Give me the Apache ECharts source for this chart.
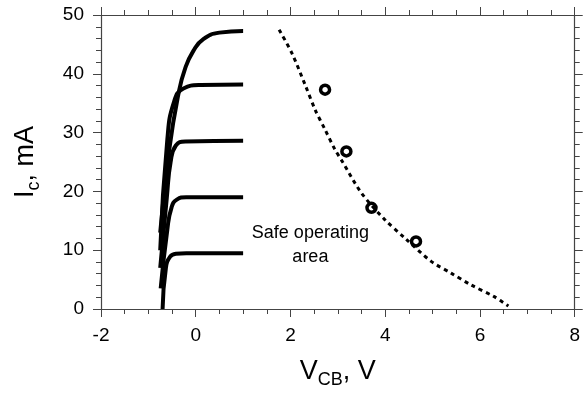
<!DOCTYPE html>
<html>
<head>
<meta charset="utf-8">
<script src="https://cdn.jsdelivr.net/npm/echarts@6/dist/echarts.min.js"></script>
<style>
  html, body { margin: 0; padding: 0; background: #fff; }
  #charts { width: 583px; height: 396px; }
</style>
</head>
<body>
<div id="charts"></div>
<script>
// output characteristics, [V_CB, I_c]
var curve1 = [[-0.70, 0], [-0.63, 7], [-0.54, 8.9], [-0.42, 9.4], [-0.2, 9.5], [1.0, 9.5]];
var curve2 = [[-0.74, 3.5], [-0.6, 13.5], [-0.51, 17.3], [-0.40, 18.6], [-0.2, 19], [1.0, 19]];
var curve3 = [[-0.75, 7], [-0.61, 19], [-0.53, 25], [-0.42, 27.8], [-0.22, 28.5], [1.0, 28.6]];
var curve4 = [[-0.75, 10], [-0.6, 28.8], [-0.46, 35.2], [-0.26, 37.5], [0.1, 38.1], [1.0, 38.2]];
var curve5 = [[-0.75, 13], [-0.56, 27.1], [-0.36, 36.8], [-0.22, 41], [-0.05, 43.9], [0.16, 45.9], [0.5, 47], [1.0, 47.3]];
// boundary of safe operating area
var boundary = [[1.76, 47.5], [2.03, 43.5], [2.31, 38.1], [2.52, 33.9], [2.73, 30.5], [2.94, 27.1],
                [3.1, 25], [3.5, 19.7], [3.99, 15.2], [4.41, 12.1], [4.97, 8.1], [5.39, 6.1],
                [5.81, 4.1], [6.3, 2.1], [6.6, 0.5]];
var measured = [[2.73, 37.3], [3.18, 26.8], [3.71, 17.2], [4.65, 11.5]];
var note = [[2.42, 10.9, 'Safe operating\narea']];

var xTicks = [-2, 0, 2, 4, 6, 8];
var yTicks = [0, 10, 20, 30, 40, 50];

var myChart = echarts.init(document.getElementById('charts'));
var font = 'Liberation Sans';
var axisColor = '#444';

function makeAxis(pos, isX, showLabel) {
    return {
        type: 'value',
        position: pos,
        min: isX ? xTicks[0] : yTicks[0],
        max: isX ? xTicks[xTicks.length - 1] : yTicks[yTicks.length - 1],
        interval: isX ? 2 : 10,
        axisLine: { show: true, onZero: false, lineStyle: { color: axisColor, width: 1.2 } },
        axisTick: { show: true, inside: false, length: 8, lineStyle: { color: axisColor } },
        minorTick: { show: true, splitNumber: isX ? 4 : 5, length: 5, lineStyle: { color: axisColor } },
        splitLine: { show: false },
        axisLabel: { show: showLabel, color: '#000', fontFamily: font, fontSize: 19, margin: 17 }
    };
}

var lineStyle = { color: '#000', width: 4 };
function curve(data) {
    return {
        type: 'line', data: data, smooth: 0.5,
        showSymbol: false, lineStyle: lineStyle, silent: true, xAxisIndex: 0, yAxisIndex: 0
    };
}

var nameStyle = {
    fontFamily: font, color: '#000',
    rich: { a: { fontSize: 27, fontFamily: font }, s: { fontSize: 18, fontFamily: font, padding: [16, 0, 0, 0] } }
};
var xName = makeAxis('bottom', true, true);
xName.name = '{a|V}{s|CB}{a|, V}';
xName.nameLocation = 'middle';
xName.nameGap = 46;
xName.nameTextStyle = nameStyle;
var yName = makeAxis('left', false, true);
yName.name = '{a|I}{s|c}{a|, mA}';
yName.nameLocation = 'middle';
yName.nameGap = 58;
yName.nameTextStyle = nameStyle;

var option = {
    animation: false,
    backgroundColor: '#fff',
    grid: { left: 101, top: 15, right: 5, bottom: 87 },
    xAxis: [xName, makeAxis('top', true, false)],
    yAxis: [yName, makeAxis('right', false, false)],
    series: [
        curve(curve1), curve(curve2), curve(curve3), curve(curve4), curve(curve5),
        {
            type: 'line', data: boundary, smooth: 0.3, showSymbol: false, silent: true,
            lineStyle: { color: '#000', width: 3, type: [4, 4] }
        },
        {
            type: 'scatter', data: measured, symbol: 'circle', symbolSize: 9, silent: true,
            itemStyle: { color: '#fff', borderColor: '#000', borderWidth: 3.5, opacity: 1 }
        },
        {
            type: 'scatter', data: note, symbolSize: 0, silent: true,
            itemStyle: { opacity: 1 },
            label: {
                show: true, position: 'inside', align: 'center', verticalAlign: 'middle',
                formatter: function (p) { return p.data[2]; },
                fontFamily: font, fontSize: 18, color: '#000', lineHeight: 24
            }
        }
    ]
};

myChart.setOption(option);
</script>
</body>
</html>
